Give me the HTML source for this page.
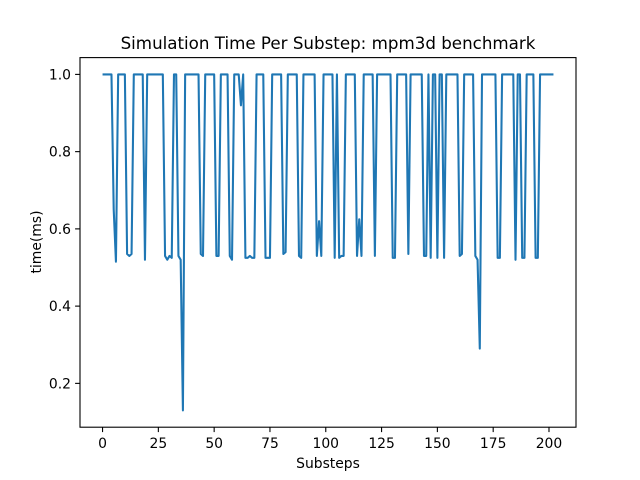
<!DOCTYPE html>
<html><head><meta charset="utf-8"><style>
body{margin:0;background:#fff;}
svg{display:block;font-family:"DejaVu Sans","Liberation Sans",sans-serif;}
</style></head><body>
<svg id="chart" width="640" height="480">
<rect width="640" height="480" fill="#fff"/>
<text x="328" y="49" text-anchor="middle" font-size="16.7">Simulation Time Per Substep: mpm3d benchmark</text>
<text x="328" y="468" text-anchor="middle" font-size="13.9">Substeps</text>
<text x="0" y="0" transform="translate(41,242) rotate(-90)" text-anchor="middle" font-size="13.9">time(ms)</text>
<g id="ticks"></g>
<path id="line" fill="none" stroke="#1f77b4" stroke-width="2.08" stroke-linejoin="round"/>
<rect x="80" y="57.6" width="496" height="369.6" fill="none" stroke="#000" stroke-width="1.1"/>
</svg>
<script>
const values = [
1,1,1,1,1,.65,.515,1,1,1,
1,.535,.53,.535,1,1,1,1,1,.52,
1,1,1,1,1,1,1,1,.53,.52,
.53,.525,1,1,.53,.52,.13,1,1,1,
1,1,1,1,.535,.53,1,1,1,1,
1,.53,.53,1,1,1,1,.53,.52,1,
1,1,.92,1,.525,.525,.53,.525,.525,1,
1,1,1,.525,.525,.525,1,1,1,1,
1,.535,.54,1,1,1,1,1,.53,.525,
1,1,1,1,1,1,.53,.62,.53,1,
1,1,1,1,.525,1,.525,.53,.53,1,
1,1,1,1,.53,.625,.53,1,1,1,
1,1,.53,1,1,1,1,1,1,1,
.525,.525,1,1,1,1,1,.535,1,1,
1,1,1,1,.53,.53,1,.525,1,1,
.525,1,1,.525,1,1,1,1,1,1,
.53,.535,1,1,1,1,1,.53,.52,.29,
1,1,1,1,1,1,1,.525,.525,1,
1,1,1,1,1,.52,1,1,.525,.525,
1,1,1,1,.525,.525,1,1,1,1,
1,1,1];
const xTicks = [0,25,50,75,100,125,150,175,200];
const yTicks = [0.2,0.4,0.6,0.8,1.0];
const yTickLabels = ["0.2","0.4","0.6","0.8","1.0"];

const L=80,R=576,T=57.6,B=427.2;
const n=values.length;
const xmin=-(n-1)*0.05, xmax=(n-1)*1.05;
const vmin=Math.min(...values), vmax=Math.max(...values), pad=(vmax-vmin)*0.05;
const ymin=vmin-pad, ymax=vmax+pad;
const sx=v=>L+(v-xmin)/(xmax-xmin)*(R-L);
const sy=v=>B-(v-ymin)/(ymax-ymin)*(B-T);
const NS="http://www.w3.org/2000/svg";
document.getElementById('line').setAttribute('d',values.map((v,i)=>(i?'L':'M')+sx(i).toFixed(2)+','+sy(v).toFixed(2)).join(''));
const g=document.getElementById('ticks');
xTicks.forEach(t=>{
  const l=document.createElementNS(NS,'line');
  l.setAttribute('x1',sx(t));l.setAttribute('x2',sx(t));l.setAttribute('y1',B);l.setAttribute('y2',B+4.9);l.setAttribute('stroke','#000');l.setAttribute('stroke-width','1.1');
  
  
  g.appendChild(l);
  const tx=document.createElementNS(NS,'text');
  tx.setAttribute('x',sx(t));tx.setAttribute('y',B+21);tx.setAttribute('text-anchor','middle');tx.setAttribute('font-size','13.9');tx.textContent=t;
  
  
  g.appendChild(tx);
});
yTicks.forEach((t,i)=>{
  const l=document.createElementNS(NS,'line');
  l.setAttribute('x1',L-4.9);l.setAttribute('x2',L);l.setAttribute('y1',sy(t));l.setAttribute('y2',sy(t));l.setAttribute('stroke','#000');l.setAttribute('stroke-width','1.1');
  
  
  g.appendChild(l);
  const tx=document.createElementNS(NS,'text');
  tx.setAttribute('x',L-9);tx.setAttribute('y',sy(t)+5);tx.setAttribute('text-anchor','end');tx.setAttribute('font-size','13.9');tx.textContent=yTickLabels[i];
  
  
  g.appendChild(tx);
});
</script>
</body></html>
